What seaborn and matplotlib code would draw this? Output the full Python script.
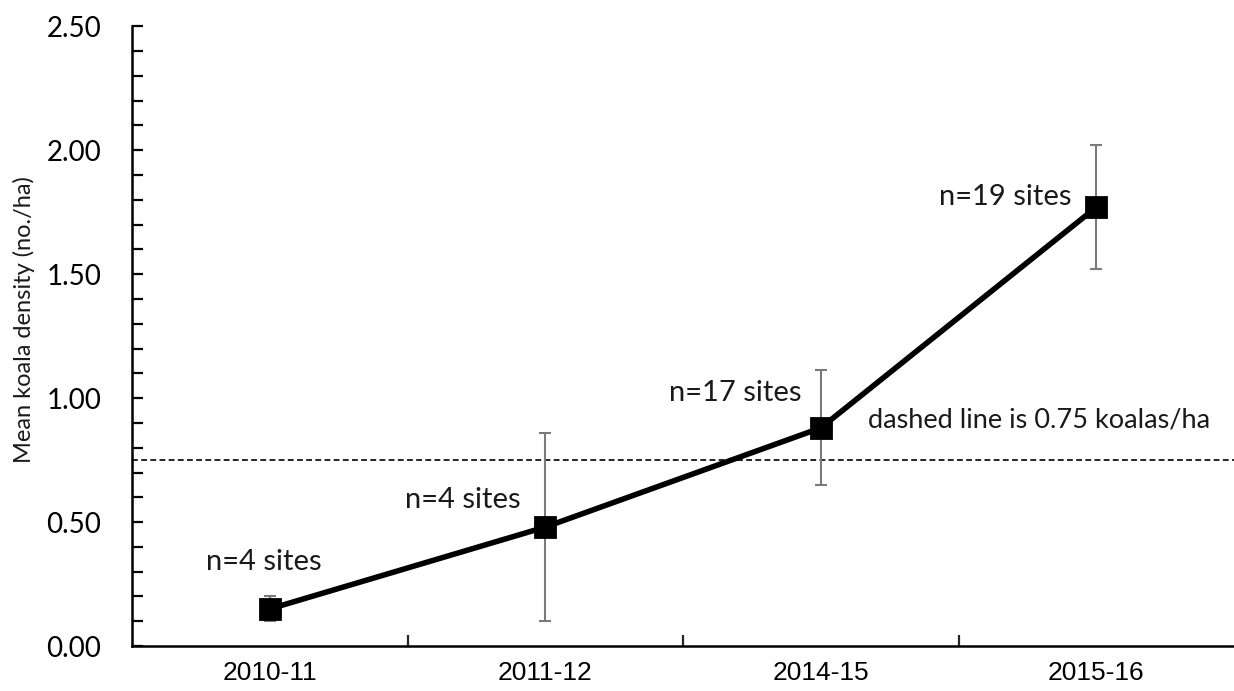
import matplotlib
matplotlib.use("Agg")
import matplotlib.pyplot as plt
import seaborn as sns
import pandas as pd
from matplotlib.ticker import MultipleLocator, FixedLocator

# Survey periods and mean koala density (no./ha) with error half-widths
periods = ["2010-11", "2011-12", "2014-15", "2015-16"]
mean_density = [0.15, 0.48, 0.88, 1.77]
err_low = [0.05, 0.38, 0.23, 0.25]
err_high = [0.05, 0.38, 0.235, 0.25]
site_labels = ["n=4 sites", "n=4 sites", "n=17 sites", "n=19 sites"]
threshold = 0.75
threshold_text = "dashed line is 0.75 koalas/ha"

df = pd.DataFrame({"period": periods, "density": mean_density})

sns.set_theme(style="white")
plt.rcParams["font.family"] = ["Lato", "DejaVu Sans"]

fig = plt.figure(figsize=(12.34, 6.91), dpi=100)
ax = fig.add_axes([0.107, 0.065, 0.893, 0.897])

# Error bars (drawn under the series)
ax.errorbar(range(len(periods)), mean_density, yerr=[err_low, err_high],
            fmt="none", ecolor="#7a7a7a", elinewidth=1.5, capsize=4.5,
            capthick=1.5, zorder=1)

# Threshold line
ax.axhline(threshold, color="black", linestyle=(0, (3.5, 2)), linewidth=1.2, zorder=0)

# Mean density series
sns.pointplot(data=df, x="period", y="density", color="black", markers="s",
              linestyles="-", errorbar=None, ax=ax, zorder=3)
for ln in ax.lines:
    if ln.get_marker() == "s":
        ln.set_markersize(15)
        ln.set_linewidth(4.0)

# Annotations
label_pos = [(-0.02, 0.34), (0.70, 0.59), (1.69, 1.02), (2.67, 1.81)]
for text, (x, y) in zip(site_labels, label_pos):
    ax.text(x, y, text, ha="center", va="center", fontsize=21, color="#1a1a1a")
ax.text(2.17, 0.91, threshold_text, ha="left", va="center", fontsize=19.5, color="#1a1a1a")

# Axes styling
ax.set_xlim(-0.5, 3.5)
ax.set_ylim(0, 2.5)
ax.yaxis.set_major_locator(MultipleLocator(0.5))
ax.yaxis.set_minor_locator(MultipleLocator(0.1))
ax.set_yticks(ax.get_yticks())
ax.set_yticklabels([f"{v:.2f}" for v in ax.get_yticks()])
ax.set_ylim(0, 2.5)
ax.xaxis.set_minor_locator(FixedLocator([0.5, 1.5, 2.5]))
ax.tick_params(axis="y", which="both", direction="in", length=8, width=1.6,
               left=True, labelsize=20, colors="black", pad=22)
ax.tick_params(axis="x", which="major", length=0, pad=11)
ax.tick_params(axis="x", which="minor", direction="in", length=8, width=1.6, bottom=True)
for lbl in ax.get_xticklabels():
    lbl.set_fontfamily(["Liberation Sans", "DejaVu Sans"])
    lbl.set_fontsize(19)
    lbl.set_color("black")
ax.set_xlabel("")
ax.set_ylabel("Mean koala density (no./ha)", fontsize=17, color="#1a1a1a")
ax.yaxis.set_label_coords(-0.088, 0.527)

for side in ["top", "right"]:
    ax.spines[side].set_visible(False)
for side in ["left", "bottom"]:
    ax.spines[side].set_color("black")
    ax.spines[side].set_linewidth(1.8)

fig.savefig("out.png", dpi=100)
